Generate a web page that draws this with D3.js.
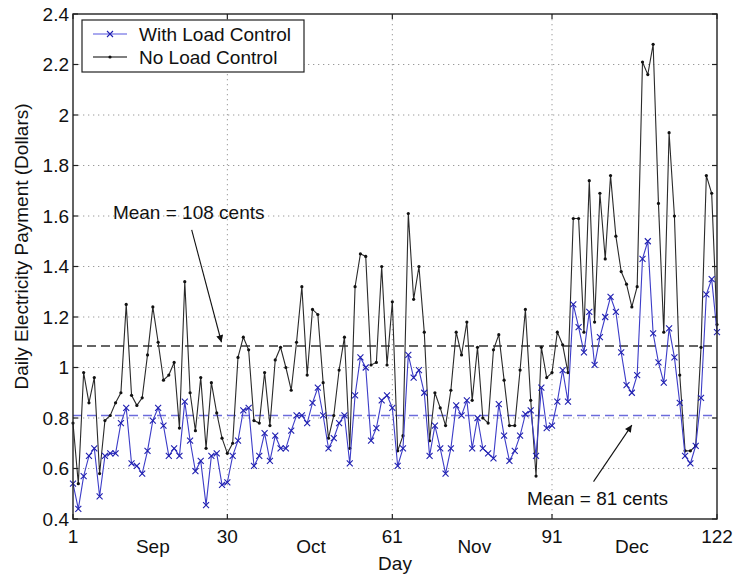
<!DOCTYPE html>
<html><head><meta charset="utf-8">
<script src="https://cdn.jsdelivr.net/npm/d3@7"></script>
<style>body{margin:0;background:#fff} svg text{font-family:"Liberation Sans",Arial,sans-serif;fill:#111;}</style>
</head><body><svg id="c" width="734" height="576"></svg>
<script>
// ---- data ----
const days = d3.range(1, 123);
const withLoadControl = [
 0.54,0.44,0.57,0.65,0.68,0.49,0.65,0.66,0.66,0.78,
 0.84,0.62,0.61,0.58,0.67,0.79,0.84,0.77,0.65,0.68,
 0.65,0.865,0.71,0.59,0.63,0.455,0.65,0.66,0.535,0.545,
 0.65,0.71,0.83,0.84,0.61,0.65,0.74,0.63,0.73,0.68,
 0.68,0.75,0.81,0.81,0.78,0.86,0.92,0.81,0.68,0.72,
 0.78,0.81,0.62,0.89,1.04,1.00,0.71,0.76,0.87,0.89,
 0.84,0.61,0.68,1.05,0.96,0.99,0.90,0.65,0.77,0.68,
 0.58,0.68,0.85,0.81,0.87,0.68,0.80,0.68,0.66,0.64,
 0.855,0.73,0.63,0.67,0.73,0.815,0.83,0.65,0.92,0.76,
 0.77,0.865,0.99,0.865,1.25,1.16,1.06,1.22,1.01,1.12,
 1.20,1.28,1.22,1.06,0.93,0.90,0.97,1.43,1.50,1.135,
 1.02,0.94,1.155,1.04,0.86,0.65,0.62,0.69,0.88,1.29,
 1.35,1.14];
const noLoadControl = [
 0.78,0.54,0.98,0.86,0.96,0.58,0.79,0.81,0.86,0.90,
 1.25,0.89,0.85,0.88,1.05,1.24,1.10,0.95,0.97,1.02,
 0.76,1.34,0.90,0.75,0.96,0.68,0.94,0.82,0.72,0.66,
 0.70,1.04,1.12,1.07,0.79,0.78,0.98,0.77,1.03,1.08,
 1.00,0.91,1.10,1.32,0.97,1.23,1.21,0.94,0.72,0.81,
 0.99,1.12,0.68,1.32,1.45,1.44,1.01,1.02,1.40,1.01,
 1.26,0.67,0.73,1.61,1.27,1.40,1.14,0.71,0.90,0.84,
 0.77,0.91,1.14,1.05,1.18,0.87,1.08,0.80,0.78,1.07,
 1.13,0.95,0.77,0.77,0.99,1.23,0.87,0.57,1.08,0.96,
 0.98,1.14,1.09,0.98,1.59,1.59,1.14,1.74,1.18,1.69,
 1.43,1.76,1.52,1.38,1.33,1.24,1.32,2.21,2.16,2.28,
 1.65,1.14,1.93,1.60,0.97,0.67,0.67,0.69,1.08,1.76,
 1.69,1.17];
const seriesNames = ["With Load Control", "No Load Control"];
const xTickValues = [1, 30, 61, 91, 122];
const yTickValues = [0.4,0.6,0.8,1.0,1.2,1.4,1.6,1.8,2.0,2.2,2.4];
const monthLabels = ["Sep", "Oct", "Nov", "Dec"];
const monthDays = [16, 45.7, 76.4, 106];
const meanValues = [1.085, 0.81];           // No Load, With Load
const meanLabels = ["Mean = 108 cents", "Mean = 81 cents"];
// annotation anchors in data coordinates: [textDay, textValue, tailDay, tailValue, tipDay, tipValue]
const annotations = [
  [8.5, 1.616, 23.3, 1.545, 28.9, 1.10],
  [86.3, 0.483, 98.8, 0.548, 106.0, 0.772]
];

// ---- layout ----
const svg = d3.select("#c");
const L = 73, R = 717, T = 14, B = 519;
const x = d3.scaleLinear().domain([1, 122]).range([L, R]);
const y = d3.scaleLinear().domain([0.4, 2.4]).range([B, T]);
const FS = 19;

const defs = svg.append("defs");
defs.append("marker").attr("id","ah").attr("viewBox","0 0 10 10").attr("refX",10).attr("refY",5)
  .attr("markerWidth",9).attr("markerHeight",7).attr("markerUnits","userSpaceOnUse").attr("orient","auto")
  .append("path").attr("d","M0,0 L10,5 L0,10 z").attr("fill","#111");

// grid
const g = svg.append("g");
g.selectAll(".hg").data(yTickValues.slice(1, -1)).join("line")
  .attr("x1", L).attr("x2", R).attr("y1", d => y(d)).attr("y2", d => y(d))
  .attr("stroke", "#9a9a9a").attr("stroke-width", 1).attr("stroke-dasharray", "1.3,3.7");
g.selectAll(".vg").data(xTickValues.slice(1, -1)).join("line")
  .attr("y1", T).attr("y2", B).attr("x1", d => x(d)).attr("x2", d => x(d))
  .attr("stroke", "#9a9a9a").attr("stroke-width", 1).attr("stroke-dasharray", "1.3,3.7");

// mean dashed lines
svg.append("line").attr("x1", L).attr("x2", R).attr("y1", y(meanValues[0])).attr("y2", y(meanValues[0]))
  .attr("stroke", "#333").attr("stroke-width", 1.6).attr("stroke-dasharray", "9,5");
svg.append("line").attr("x1", L).attr("x2", R).attr("y1", y(meanValues[1])).attr("y2", y(meanValues[1]))
  .attr("stroke", "#6b6bdc").attr("stroke-width", 1.6).attr("stroke-dasharray", "9,5");

// series
const line = d3.line().x((d, i) => x(days[i])).y(d => y(d));
svg.append("path").datum(noLoadControl).attr("d", line).attr("fill", "none")
  .attr("stroke", "#2a2a2a").attr("stroke-width", 1.1);
svg.append("g").selectAll("circle").data(noLoadControl).join("circle")
  .attr("cx", (d, i) => x(days[i])).attr("cy", d => y(d)).attr("r", 1.6).attr("fill", "#111");

svg.append("path").datum(withLoadControl).attr("d", line).attr("fill", "none")
  .attr("stroke", "#3c3cc8").attr("stroke-width", 1.1);
const xm = 3;
svg.append("g").selectAll("path").data(withLoadControl).join("path")
  .attr("d", (d, i) => {
    const cx = x(days[i]), cy = y(d);
    return `M${cx - xm},${cy - xm}L${cx + xm},${cy + xm}M${cx - xm},${cy + xm}L${cx + xm},${cy - xm}`;
  }).attr("stroke", "#2020b0").attr("stroke-width", 1.1);

// axes box + ticks
svg.append("rect").attr("x", L).attr("y", T).attr("width", R - L).attr("height", B - T)
  .attr("fill", "none").attr("stroke", "#222").attr("stroke-width", 1.4);
const tl = 5;
const ax = svg.append("g").attr("stroke", "#222").attr("stroke-width", 1.2);
yTickValues.forEach(v => {
  ax.append("line").attr("x1", L).attr("x2", L + tl).attr("y1", y(v)).attr("y2", y(v));
  ax.append("line").attr("x1", R).attr("x2", R - tl).attr("y1", y(v)).attr("y2", y(v));
});
xTickValues.forEach(v => {
  ax.append("line").attr("y1", B).attr("y2", B - tl).attr("x1", x(v)).attr("x2", x(v));
  ax.append("line").attr("y1", T).attr("y2", T + tl).attr("x1", x(v)).attr("x2", x(v));
});

// tick labels
const fmt = d => (Math.round(d * 10) / 10).toString();
svg.append("g").selectAll("text").data(yTickValues).join("text")
  .attr("x", L - 4).attr("y", d => y(d)).attr("dy", "0.35em").attr("text-anchor", "end")
  .attr("font-size", FS).text(fmt);
svg.append("g").selectAll("text").data(xTickValues).join("text")
  .attr("x", d => x(d)).attr("y", B + 24).attr("text-anchor", "middle")
  .attr("font-size", FS).text(d => d);
svg.append("g").selectAll("text").data(monthLabels).join("text")
  .attr("x", (d, i) => x(monthDays[i])).attr("y", B + 34).attr("text-anchor", "middle")
  .attr("font-size", FS).text(d => d);

// axis titles
svg.append("text").attr("x", (L + R) / 2).attr("y", 570).attr("text-anchor", "middle")
  .attr("font-size", FS).text("Day");
svg.append("text").attr("transform", `translate(28,${(T + B) / 2 - 20}) rotate(-90)`)
  .attr("text-anchor", "middle").attr("font-size", FS).text("Daily Electricity Payment (Dollars)");

// annotations
annotations.forEach((a, i) => {
  svg.append("text").attr("x", x(a[0])).attr("y", y(a[1])).attr("dy", "0.35em")
    .attr("font-size", FS).text(meanLabels[i]);
  svg.append("line").attr("x1", x(a[2])).attr("y1", y(a[3])).attr("x2", x(a[4])).attr("y2", y(a[5]))
    .attr("stroke", "#111").attr("stroke-width", 1.1).attr("marker-end", "url(#ah)");
});

// legend
const lg = svg.append("g");
lg.append("rect").attr("x", 82).attr("y", 20).attr("width", 222).attr("height", 52)
  .attr("fill", "#fff").attr("stroke", "#222").attr("stroke-width", 1.2);
const rows = [
  {name: seriesNames[0], y: 34, color: "#8c8cea", mk: "x"},
  {name: seriesNames[1], y: 57, color: "#555", mk: "o"}
];
rows.forEach(r => {
  lg.append("line").attr("x1", 93).attr("x2", 127).attr("y1", r.y).attr("y2", r.y)
    .attr("stroke", r.color).attr("stroke-width", 1.4);
  if (r.mk === "x") {
    lg.append("path").attr("d", `M${110 - xm},${r.y - xm}L${110 + xm},${r.y + xm}M${110 - xm},${r.y + xm}L${110 + xm},${r.y - xm}`)
      .attr("stroke", "#2020b0").attr("stroke-width", 1.1);
  } else {
    lg.append("circle").attr("cx", 110).attr("cy", r.y).attr("r", 1.6).attr("fill", "#111");
  }
  lg.append("text").attr("x", 139).attr("y", r.y).attr("dy", "0.35em").attr("font-size", FS).text(r.name);
});
</script></body></html>
